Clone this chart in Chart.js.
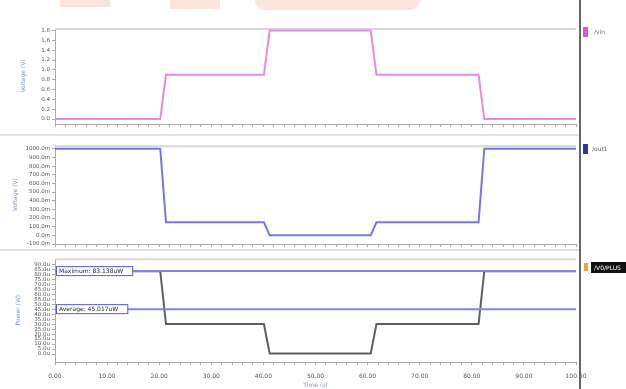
<!DOCTYPE html>
<html>
<head>
<meta charset="utf-8">
<script src="https://cdn.jsdelivr.net/npm/chart.js@4.4.1/dist/chart.umd.min.js"></script>
<style>
    body { margin: 0; background: #fff; font-family: 'DejaVu Sans', sans-serif; }
    #wrap { position: relative; width: 626px; height: 389px; overflow: hidden; background: #fff; }
    canvas { position: absolute; left: 0; }
    .sep { position: absolute; left: 0; width: 580px; height: 2px; background: #e2e2e2; }
    .mark { position: absolute; background: #f9d6cc; opacity: 0.65; }
    .legend { position: absolute; font-size: 6px; color: #666; }
    .swatch { position: absolute; }
</style>
</head>
<body>
<div id="wrap">
    <div class="mark" style="left:60px;top:0;width:50px;height:7px;"></div>
    <div class="mark" style="left:170px;top:0;width:50px;height:9px;"></div>
    <div class="mark" style="left:255px;top:0;width:165px;height:10px;border-radius:0 0 40px 40px;"></div>

    <canvas id="vinChart" width="626" height="130" style="top:0"></canvas>
    <div class="sep" style="top:134px"></div>
    <canvas id="out1Chart" width="626" height="110" style="top:140px"></canvas>
    <div class="sep" style="top:249px"></div>
    <canvas id="powerChart" width="626" height="136" style="top:253px"></canvas>

    <!-- right edge of the waveform window -->
    <div style="position:absolute;left:579px;top:0;width:2px;height:389px;background:#666;"></div>

    <div class="swatch" style="left:583px;top:27px;width:5px;height:10px;background:#d55ad5;"></div>
    <div class="legend" style="left:594px;top:28px;">/vin</div>
    <div class="swatch" style="left:583px;top:144px;width:5px;height:10px;background:#3030b0;"></div>
    <div class="legend" style="left:592px;top:145px;">/out1</div>
    <div class="swatch" style="left:584px;top:263px;width:4px;height:8px;background:#f0a040;"></div>
    <div style="position:absolute;left:591px;top:262px;width:35px;height:11px;background:#111;color:#fff;font-size:6px;line-height:11px;padding-left:3px;box-sizing:border-box;">/V0/PLUS</div>
</div>

<script>
// Waveform data (time in s, three traces)
const timeSteps = [0, 20.2, 21.3, 40.1, 41.2, 60.6, 61.7, 81.3, 82.4, 100];
const vinValues = [0, 0, 0.9, 0.9, 1.8, 1.8, 0.9, 0.9, 0, 0];
const out1Values = [1000, 1000, 150, 150, 0, 0, 150, 150, 1000, 1000];
const powerValues = [83.1, 83.1, 30, 30, 0.5, 0.5, 30, 30, 83.1, 83.1];
const powerMaximum = 83.138;
const powerAverage = 45.017;

// Tick labels
const timeTicks = [0, 10, 20, 30, 40, 50, 60, 70, 80, 90, 100];
const vinTicks = [0, 0.2, 0.4, 0.6, 0.8, 1.0, 1.2, 1.4, 1.6, 1.8];
const out1Ticks = [-100, 0, 100, 200, 300, 400, 500, 600, 700, 800, 900, 1000];
const powerTicks = [0, 5, 10, 15, 20, 25, 30, 35, 40, 45, 50, 55, 60, 65, 70, 75, 80, 85, 90];

const tickFont = { family: 'DejaVu Sans', size: 5.5 };
const titleColor = '#7a96cc';

function toPoints(values) {
    return timeSteps.map((t, i) => ({ x: t, y: values[i] }));
}

// minor time ticks every 2 s, labels only every 10 s
const minorTimeTicks = [];
for (let t = 0; t <= 100; t += 2) minorTimeTicks.push(t);

function timeAxis(showLabels) {
    return {
        type: 'linear',
        min: 0,
        max: 100,
        afterBuildTicks: scale => { scale.ticks = minorTimeTicks.map(v => ({ value: v })); },
        afterFit: scale => { scale.height = showLabels ? 27 : 4; },
        grid: { drawOnChartArea: false, tickLength: 3, color: '#aaa' },
        border: { color: '#aaa' },
        ticks: {
            display: showLabels,
            autoSkip: false,
            maxRotation: 0,
            padding: 8,
            color: '#555',
            font: { family: 'DejaVu Sans', size: 6 },
            callback: v => timeTicks.includes(v) ? v.toFixed(2) : ''
        },
        title: {
            display: showLabels,
            text: 'Time (s)',
            color: titleColor,
            font: { family: 'DejaVu Sans', size: 6 },
            padding: 0
        }
    };
}

function valueAxis(title, min, max, tickValues, format, leftPad) {
    return {
        min: min,
        max: max,
        afterBuildTicks: scale => { scale.ticks = tickValues.map(v => ({ value: v })); },
        afterFit: scale => { scale.width = 55 - leftPad; },
        grid: { drawOnChartArea: false, tickLength: 3, color: '#aaa' },
        border: { color: '#aaa' },
        ticks: { autoSkip: false, padding: 2, color: '#555', font: tickFont, callback: format },
        title: { display: true, text: title, color: titleColor, font: { family: 'DejaVu Sans', size: 6 }, padding: 0 }
    };
}

// top border line of every panel
const topBorder = {
    id: 'topBorder',
    beforeDatasetsDraw(chart) {
        const a = chart.chartArea;
        const ctx = chart.ctx;
        ctx.save();
        ctx.strokeStyle = '#d8d8d8';
        ctx.lineWidth = 2;
        ctx.beginPath();
        ctx.moveTo(a.left, a.top + 1);
        ctx.lineTo(a.right, a.top + 1);
        ctx.stroke();
        ctx.restore();
    }
};

// boxed labels for the maximum / average markers
const markerLabels = {
    id: 'markerLabels',
    afterDatasetsDraw(chart) {
        const y = chart.scales.y;
        const ctx = chart.ctx;
        const left = chart.chartArea.left + 1;
        const items = [
            { text: 'Maximum: ' + powerMaximum.toFixed(3) + 'uW', value: powerMaximum },
            { text: 'Average: ' + powerAverage.toFixed(3) + 'uW', value: powerAverage }
        ];
        ctx.save();
        ctx.font = '6px DejaVu Sans';
        items.forEach(item => {
            const py = y.getPixelForValue(item.value);
            const w = ctx.measureText(item.text).width + 12;
            ctx.fillStyle = '#ffffff';
            ctx.fillRect(left, py - 5, w, 10);
            ctx.strokeStyle = '#5a5ad0';
            ctx.lineWidth = 1;
            ctx.strokeRect(left + 0.5, py - 4.5, w, 9);
            ctx.fillStyle = '#23234a';
            ctx.textBaseline = 'middle';
            ctx.fillText(item.text, left + 3, py + 0.5);
        });
        ctx.restore();
    }
};

function lineSet(values, color) {
    return {
        data: toPoints(values),
        borderColor: color,
        borderWidth: 2,
        pointRadius: 0,
        tension: 0
    };
}

function initCharts() {
    // Panel 1: /vin
    new Chart(document.getElementById('vinChart').getContext('2d'), {
        type: 'line',
        data: { datasets: [lineSet(vinValues, '#e58ae5')] },
        options: {
            responsive: false,
            animation: false,
            layout: { padding: { top: 28, left: 20, right: 50, bottom: 2 } },
            plugins: { legend: { display: false }, tooltip: { enabled: false } },
            scales: {
                x: timeAxis(false),
                y: valueAxis('Voltage (V)', -0.1, 1.85, vinTicks, v => v.toFixed(1), 20)
            }
        },
        plugins: [topBorder]
    });

    // Panel 2: /out1
    new Chart(document.getElementById('out1Chart').getContext('2d'), {
        type: 'line',
        data: { datasets: [lineSet(out1Values, '#7676e6')] },
        options: {
            responsive: false,
            animation: false,
            layout: { padding: { top: 5, left: 12, right: 50, bottom: 2 } },
            plugins: { legend: { display: false }, tooltip: { enabled: false } },
            scales: {
                x: timeAxis(false),
                y: valueAxis('Voltage (V)', -100, 1040, out1Ticks, v => v.toFixed(1) + 'm', 12)
            }
        },
        plugins: [topBorder]
    });

    // Panel 3: power with maximum / average markers
    new Chart(document.getElementById('powerChart').getContext('2d'), {
        type: 'line',
        data: {
            datasets: [
                lineSet([powerMaximum, powerMaximum, powerMaximum, powerMaximum, powerMaximum, powerMaximum, powerMaximum, powerMaximum, powerMaximum, powerMaximum], '#8282ea'),
                lineSet([powerAverage, powerAverage, powerAverage, powerAverage, powerAverage, powerAverage, powerAverage, powerAverage, powerAverage, powerAverage], '#8282ea'),
                lineSet(powerValues, '#5e5e5e')
            ]
        },
        options: {
            responsive: false,
            animation: false,
            layout: { padding: { top: 5, left: 15, right: 50, bottom: 0 } },
            plugins: { legend: { display: false }, tooltip: { enabled: false } },
            scales: {
                x: timeAxis(true),
                y: valueAxis('Power (W)', -8, 96, powerTicks, v => v.toFixed(1) + 'u', 15)
            }
        },
        plugins: [topBorder, markerLabels]
    });
}

document.addEventListener('DOMContentLoaded', function () {
    initCharts();
});
</script>
</body>
</html>
